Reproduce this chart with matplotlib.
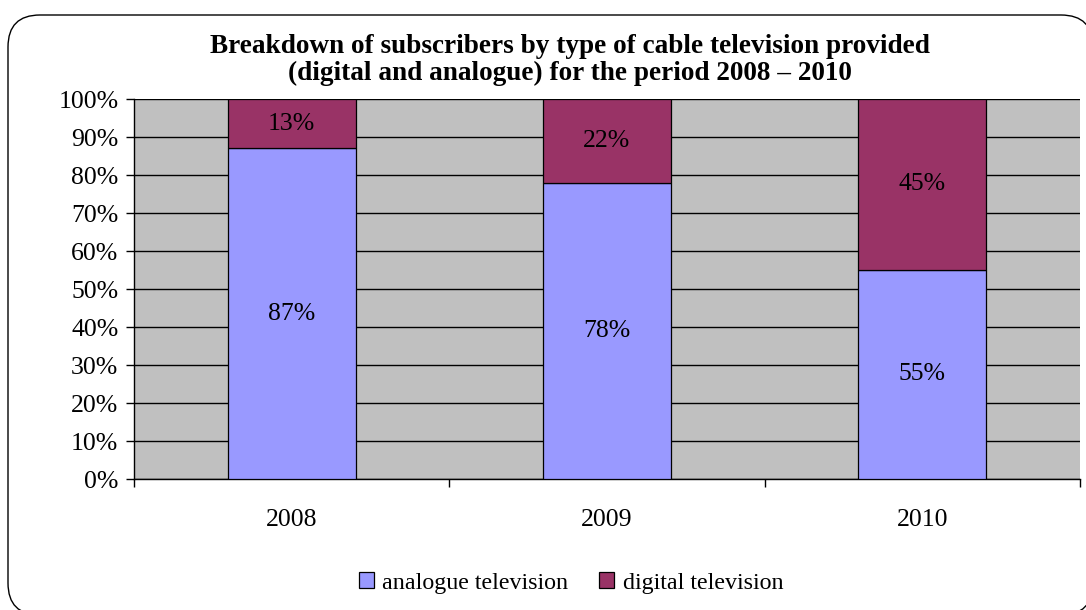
import matplotlib
matplotlib.use("Agg")
import matplotlib.pyplot as plt
import numpy as np
from matplotlib.patches import FancyBboxPatch

plt.rcParams['font.family'] = ['Liberation Serif', 'DejaVu Serif']

years = ["2008", "2009", "2010"]
analogue = [87, 78, 55]
digital = [13, 22, 45]
series_names = ["analogue television", "digital television"]
yticks = [0, 10, 20, 30, 40, 50, 60, 70, 80, 90, 100]
title = ("Breakdown of subscribers by type of cable television provided\n"
         "(digital and analogue) for the period 2008 \u2013 2010")

W, H = 1086, 610
fig = plt.figure(figsize=(W / 100, H / 100), dpi=100)

# rounded frame around the whole chart, drawn in pixel coordinates
bg = fig.add_axes([0, 0, 1, 1])
bg.set_xlim(0, W)
bg.set_ylim(H, 0)
bg.axis("off")
frame = FancyBboxPatch((8, 15), 1085, 600,
                       boxstyle="round,pad=0,rounding_size=32",
                       facecolor="white", edgecolor="black", linewidth=1.0)
bg.add_patch(frame)

ax = fig.add_axes([134 / W, 1 - 479 / H, 946 / W, 380 / H])
ax.set_facecolor("#C0C0C0")
x = np.arange(len(years))
bw = 0.406
b1 = ax.bar(x, analogue, width=bw, color="#9999FF", edgecolor="black",
            linewidth=0.9, label=series_names[0], zorder=3)
b2 = ax.bar(x, digital, width=bw, bottom=analogue, color="#993366",
            edgecolor="black", linewidth=0.9, label=series_names[1], zorder=3)

for xi, a, d in zip(x, analogue, digital):
    ax.text(xi, a / 2, f"{a}%", ha="center", va="center", fontsize=18.5, zorder=4)
    ax.text(xi, a + d / 2, f"{d}%", ha="center", va="center", fontsize=18.5, zorder=4)

ax.set_xlim(-0.5, 2.5)
ax.set_ylim(0, 100)
ax.set_yticks(yticks)
ax.set_yticklabels([f"{v}%" for v in yticks])
ax.yaxis.grid(True, color="black", linewidth=1.0, zorder=1)
ax.set_axisbelow(True)

ax.set_xticks([-0.5, 0.5, 1.5, 2.5])
ax.set_xticklabels([])
ax.set_xticks(x, minor=True)
ax.set_xticklabels(years, minor=True)
ax.tick_params(axis="x", which="major", direction="out", length=5.8, width=1.0)
ax.tick_params(axis="x", which="minor", length=0, pad=21.5, labelsize=18.5)
ax.tick_params(axis="y", direction="out", length=5.8, width=1.0, pad=5.5,
               labelsize=18.5)

for s in ("top", "right"):
    ax.spines[s].set_visible(False)
for s in ("left", "bottom"):
    ax.spines[s].set_linewidth(1.0)
    ax.spines[s].set_color("black")

fig.text(570 / W, 1 - 60 / H, title, ha="center", va="center",
         fontsize=19.6, fontweight="bold", linespacing=1.1)

fig.legend(handles=[b1, b2], labels=series_names, loc="center",
           bbox_to_anchor=(571 / W, 1 - 583 / H), ncol=2, frameon=False,
           fontsize=17.3, handlelength=0.62, handleheight=0.62,
           handletextpad=0.35, columnspacing=1.3, borderaxespad=0)

fig.savefig("out.png", dpi=100)
